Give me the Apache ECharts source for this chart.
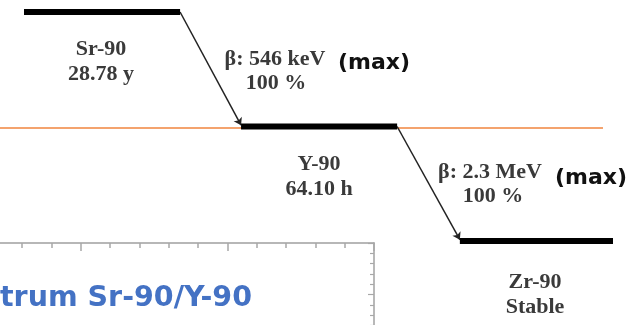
<!DOCTYPE html>
<html>
<head>
<meta charset="utf-8">
<script src="https://cdn.jsdelivr.net/npm/echarts@6/dist/echarts.min.js"></script>
<style>html,body{margin:0;padding:0;background:#fff;}#c{width:635px;height:325px;}</style>
</head>
<body>
<div id="c"></div>
<script>
// Decay scheme data (schematic units)
const levelNames = ['Sr-90', 'Y-90', 'Zr-90'];
const levelHalfLife = ['28.78 y', '64.10 h', 'Stable'];
const levelRank = [2, 1, 0];            // schematic energy rank
const levelStart = [0, 7.37, 14.8];
const levelEnd = [5.3, 12.67, 20];
const betaLabels = ['β: 546 keV', 'β: 2.3 MeV'];
const betaIntensity = ['100 %', '100 %'];
const referenceLevel = 0.985;            // orange reference line rank
const referenceSpan = [-0.82, 19.66];
const insetTitle = 'trum Sr-90/Y-90';

const chart = echarts.init(document.getElementById('c'), null, {renderer: 'canvas'});

const levelSeries = levelNames.map((n, i) => ({
  type: 'line', xAxisIndex: 0, yAxisIndex: 0, name: n,
  data: [[levelStart[i], levelRank[i]], [levelEnd[i], levelRank[i]]],
  symbol: 'none', silent: true, clip: false, z: 5,
  lineStyle: {color: '#000', width: 6, cap: 'butt'}
}));

const transitions = [];
for (let i = 0; i < levelNames.length - 1; i++) {
  transitions.push({coords: [[levelEnd[i], levelRank[i]], [levelStart[i + 1], levelRank[i + 1] + 0.012]]});
}

const serifStyle = {fontFamily: '"Liberation Serif", "DejaVu Serif", serif', fontWeight: 'bold', fontSize: 22, fill: '#3a3a3a', align: 'center', verticalAlign: 'middle', lineHeight: 25};
const sansMax = {fontFamily: '"DejaVu Sans", sans-serif', fontWeight: 'bold', fontSize: 22, fill: '#111', align: 'left', verticalAlign: 'middle'};

const option = {
  animation: false,
  backgroundColor: '#fff',
  grid: [
    {left: 24, right: 22, top: 12, height: 229, containLabel: false, outerBoundsMode: 'none'},
    {left: -66, top: 243, width: 440, height: 206, containLabel: false, outerBoundsMode: 'none'}
  ],
  xAxis: [
    {type: 'value', gridIndex: 0, min: 0, max: 20, show: false},
    {type: 'value', gridIndex: 1, position: 'top', min: 0, max: 15, interval: 5,
     axisLine: {show: true, onZero: false, lineStyle: {color: '#a0a0a0', width: 1.5}},
     axisTick: {show: true, inside: true, length: 8, lineStyle: {color: '#a8a8a8', width: 1.5}},
     minorTick: {show: true, splitNumber: 5, length: 5, lineStyle: {color: '#a8a8a8', width: 1.5}},
     axisLabel: {show: false}, splitLine: {show: false}}
  ],
  yAxis: [
    {type: 'value', gridIndex: 0, min: 0, max: 2, show: false},
    {type: 'value', gridIndex: 1, position: 'right', min: 0, max: 20, interval: 5,
     axisLine: {show: true, onZero: false, lineStyle: {color: '#a0a0a0', width: 1.5}},
     axisTick: {show: true, inside: true, length: 6, lineStyle: {color: '#a8a8a8', width: 1.2}},
     minorTick: {show: true, splitNumber: 5, length: 4, lineStyle: {color: '#a8a8a8', width: 1.2}},
     axisLabel: {show: false}, splitLine: {show: false}}
  ],
  series: [
    {type: 'lines', coordinateSystem: 'cartesian2d', xAxisIndex: 0, yAxisIndex: 0, silent: true, clip: false, z: 2,
     data: [{coords: [[referenceSpan[0], referenceLevel], [referenceSpan[1], referenceLevel]]}],
     lineStyle: {color: '#f4a36e', width: 2, opacity: 1}},
    ...levelSeries,
    {type: 'lines', coordinateSystem: 'cartesian2d', xAxisIndex: 0, yAxisIndex: 0, silent: true, clip: false, z: 4,
     data: transitions, symbol: ['none', 'arrow'], symbolSize: 7,
     lineStyle: {color: '#222', width: 1.5, opacity: 1}},
    {type: 'line', xAxisIndex: 1, yAxisIndex: 1, data: [], symbol: 'none'}
  ],
  graphic: [
    {type: 'text', x: 101, y: 62, style: Object.assign({}, serifStyle, {text: levelNames[0] + '\n' + levelHalfLife[0]})},
    {type: 'text', x: 319, y: 177, style: Object.assign({}, serifStyle, {text: levelNames[1] + '\n' + levelHalfLife[1]})},
    {type: 'text', x: 535, y: 295, style: Object.assign({}, serifStyle, {text: levelNames[2] + '\n' + levelHalfLife[2]})},
    {type: 'text', x: 275, y: 59, style: Object.assign({}, serifStyle, {text: betaLabels[0]})},
    {type: 'text', x: 276, y: 83, style: Object.assign({}, serifStyle, {text: betaIntensity[0]})},
    {type: 'text', x: 490, y: 172, style: Object.assign({}, serifStyle, {text: betaLabels[1]})},
    {type: 'text', x: 493, y: 196, style: Object.assign({}, serifStyle, {text: betaIntensity[1]})},
    {type: 'text', x: 338, y: 63, style: Object.assign({}, sansMax, {text: '(max)'})},
    {type: 'text', x: 555, y: 178, style: Object.assign({}, sansMax, {text: '(max)'})},
    {type: 'text', x: 0, y: 299, style: {text: insetTitle, fontFamily: '"DejaVu Sans", sans-serif', fontWeight: 'bold', fontSize: 28.5, fill: '#4472c4', align: 'left', verticalAlign: 'middle'}}
  ]
};
chart.setOption(option);
</script>
</body>
</html>
